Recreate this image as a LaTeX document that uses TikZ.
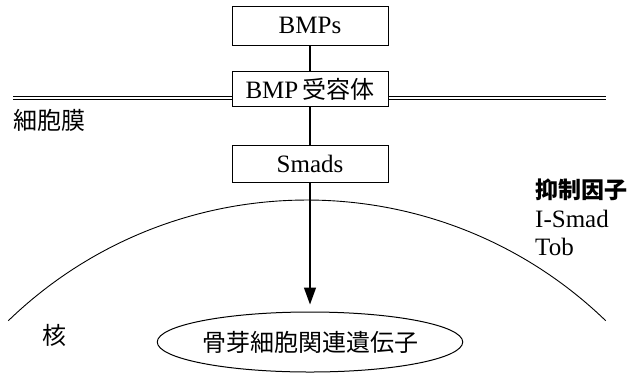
\documentclass[tikz,border=0pt]{standalone}
\usepackage{fontspec}
\setmainfont{Liberation Serif}
\newfontfamily\cjk{Noto Sans CJK JP}
\usetikzlibrary{shapes.geometric,arrows.meta}
\begin{document}
\begin{tikzpicture}[x=1pt,y=-1pt,
  box/.style={draw,line width=1pt,minimum width=156pt,minimum height=37pt,inner sep=0pt,font=\fontsize{25}{29}\selectfont},
  lbl/.style={inner sep=0pt,font=\fontsize{25}{29}\selectfont},
  jlbl/.style={inner sep=0pt,font=\cjk\fontsize{24}{28}\selectfont},
  link/.style={line width=1.4pt},
  arrowline/.style={line width=1.4pt,-{Triangle[length=17pt,width=12pt]},shorten >=7pt},
  membrane/.style={double,double distance=2pt,line width=1pt},
  nucleus/.style={line width=0.9pt}
]
\useasboundingbox (0,0) rectangle (628,373);
\node[box,minimum height=39pt] (bmps) at (310,25.5) {BMPs};
\node[box,minimum height=35pt] (rec) at (310,89) {BMP\,{\cjk\fontsize{24}{28}\selectfont 受容体}};
\node[box] (smads) at (310,163.5) {Smads};
\node[draw,ellipse,line width=1pt,minimum width=244pt,minimum height=60pt,inner sep=0pt,font=\cjk\fontsize{24}{28}\selectfont] (gene) at (310,342) {骨芽細胞関連遺伝子};
\coordinate (memL) at (13,97.5);
\coordinate (memR) at (606,97.5);
\draw[membrane] (memL) -- (memL -| rec.west);
\draw[membrane] (rec.east |- memR) -- (memR);
\draw[link] (bmps) -- (rec);
\draw[link] (rec) -- (smads);
\draw[arrowline] (smads) -- (gene);
\coordinate (nucL) at (8.3,320.7);
\draw[nucleus] (nucL) arc[start angle=134, end angle=46, radius=430pt];
\node[jlbl] (mem) at (49,120) {細胞膜};
\node[jlbl] (nuc) at (54,335) {核};
\node[anchor=west,inner sep=0pt,font=\cjk\bfseries\fontsize{23}{27}\selectfont] (inh) at (535,190) {抑制因子};
\node[lbl,anchor=base west] (ism) at (535,227) {I-Smad};
\node[lbl,anchor=base west] (tob) at (535,255) {Tob};
\end{tikzpicture}
\end{document}
